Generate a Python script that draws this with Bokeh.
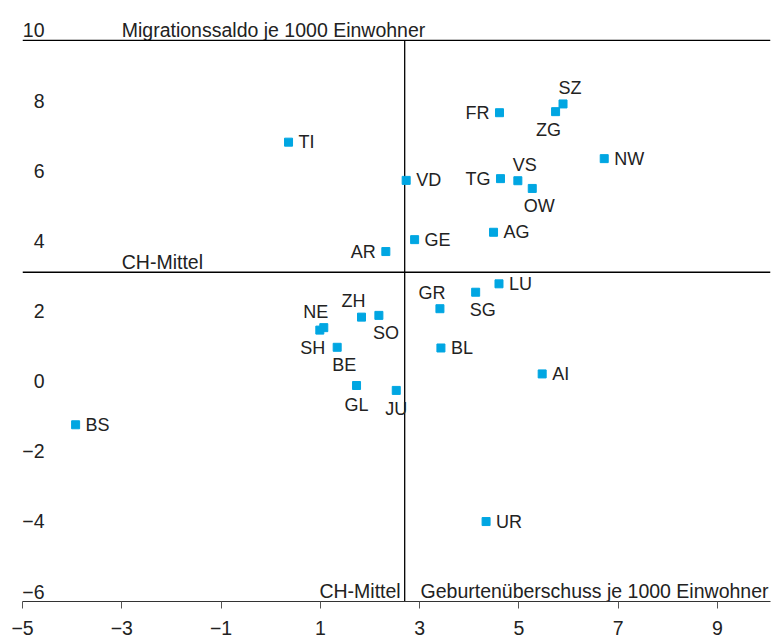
from bokeh.plotting import figure
from bokeh.models import ColumnDataSource, Span, FixedTicker, Range1d
from bokeh.core.properties import value
from bokeh.embed import file_html
from bokeh.resources import INLINE

# ---- data ----
cantons = ["SZ", "ZG", "FR", "NW", "TG", "VS", "OW", "TI", "VD", "BS", "AI", "UR", "AG",
           "GE", "AR", "LU", "SG", "GR", "ZH", "SO", "NE", "SH", "BE", "BL", "GL", "JU"]
geburtenueberschuss = [5.89, 5.74, 4.61, 6.72, 4.63, 4.98, 5.27, 0.36, 2.73, -3.93, 5.47, 4.34, 4.49,
                       2.90, 2.32, 4.60, 4.13, 3.41, 1.83, 2.18, 1.07, 0.99, 1.34, 3.43, 1.73, 2.53]
migrationssaldo = [8.19, 7.97, 7.94, 6.63, 6.06, 6.00, 5.78, 7.10, 6.01, -0.96, 0.49, -3.72, 4.53,
                   4.32, 3.98, 3.06, 2.82, 2.35, 2.11, 2.16, 1.81, 1.74, 1.25, 1.23, 0.16, 0.02]
ch_mittel_x = 2.70
ch_mittel_y = 3.39
x_ticks = [-5, -3, -1, 1, 3, 5, 7, 9]
y_ticks = [10, 8, 6, 4, 2, 0, -2, -4, -6]
y_title = "Migrationssaldo je 1000 Einwohner"
x_title = "Geburtenüberschuss je 1000 Einwohner"
mean_label = "CH-Mittel"

# ---- label placement (style) ----
placement = {"SZ": "tr", "ZG": "bl", "FR": "l", "NW": "r", "TG": "l", "VS": "tr", "OW": "br",
             "TI": "r", "VD": "r", "BS": "r", "AI": "r", "UR": "r", "AG": "r", "GE": "r",
             "AR": "l", "LU": "r", "SG": "br", "GR": "tl", "ZH": "tl", "SO": "br", "NE": "tl",
             "SH": "bl", "BE": "br", "BL": "r", "GL": "b", "JU": "b"}
offsets = {"r": (10, 0, "left"), "l": (-10, 0, "right"), "tr": (7, -16, "center"),
           "tl": (-8, -16, "center"), "br": (7, 18, "center"), "bl": (-7, 18, "center"),
           "b": (0, 19, "center")}

FONT = "Liberation Sans"
TXT = "#222222"
BLUE = "#00A6E2"
FS = "19.5px"
LFS = "18px"
LIFT = -10  # baseline placement relative to its line

X0, X1 = -5, 10.07
Y0, Y1 = -6, 11.14

p = figure(width=771, height=637, x_range=Range1d(X0, X1), y_range=Range1d(Y0, Y1),
           output_backend="svg", toolbar_location=None, y_axis_location=None,
           min_border_left=22, min_border_right=1, min_border_top=0, min_border_bottom=36)
p.outline_line_color = None
p.xgrid.visible = False
p.ygrid.visible = False
p.background_fill_color = "white"

# x axis
ax = p.xaxis[0]
ax.ticker = FixedTicker(ticks=x_ticks)
ax.major_label_overrides = {t: (str(t).replace("-", "\u2212")) for t in x_ticks}
ax.axis_line_color = "#333333"
ax.axis_line_width = 1.2
ax.major_tick_line_color = "#555555"
ax.major_tick_out = 7
ax.major_tick_in = 0
ax.minor_tick_line_color = None
ax.major_label_text_font = FONT
ax.major_label_text_font_size = FS
ax.major_label_text_color = TXT
ax.major_label_standoff = 12

# reference lines
p.add_layout(Span(location=y_ticks[0], dimension="width", line_color="black", line_width=1.3))
p.add_layout(Span(location=ch_mittel_y, dimension="width", line_color="black", line_width=1.3))
p.segment(x0=[ch_mittel_x], y0=[y_ticks[-1]], x1=[ch_mittel_x], y1=[y_ticks[0]],
          line_color="black", line_width=1.3)

common = dict(text_font=value(FONT), text_font_size=FS, text_color=TXT,
              text_baseline="alphabetic")

# y tick labels (drawn inside, above their value)
p.text(x=[X0] * len(y_ticks), y=y_ticks,
       text=[str(t).replace("-", "\u2212") for t in y_ticks],
       x_offset=22, y_offset=LIFT, text_align="right", **common)

# titles
p.text(x=[x_ticks[1]], y=[y_ticks[0]], text=[y_title], y_offset=LIFT, text_align="left", **common)
p.text(x=[X1], y=[y_ticks[-1]], text=[x_title], x_offset=-2, y_offset=LIFT - 1,
       text_align="right", **common)
p.text(x=[x_ticks[1]], y=[ch_mittel_y], text=[mean_label], y_offset=LIFT, text_align="left",
       **common)
p.text(x=[ch_mittel_x], y=[y_ticks[-1]], text=[mean_label], x_offset=-4, y_offset=LIFT - 1,
       text_align="right", **common)

# points
src = ColumnDataSource(dict(x=geburtenueberschuss, y=migrationssaldo, name=cantons))
p.scatter("x", "y", source=src, marker="square", size=8, fill_color=BLUE, line_color=BLUE)

# labels grouped by alignment
for align in ["left", "right", "center"]:
    xs, ys, ts, xo, yo = [], [], [], [], []
    for c, gx, my in zip(cantons, geburtenueberschuss, migrationssaldo):
        dx, dy, al = offsets[placement[c]]
        if al != align:
            continue
        xs.append(gx); ys.append(my); ts.append(c); xo.append(dx); yo.append(dy)
    s = ColumnDataSource(dict(x=xs, y=ys, t=ts, xo=xo, yo=yo))
    p.text("x", "y", text="t", x_offset="xo", y_offset="yo", source=s, text_align=align,
           text_baseline="middle", text_font=value(FONT), text_font_size=LFS, text_color=TXT)

open("out.html", "w").write(file_html(p, INLINE))
